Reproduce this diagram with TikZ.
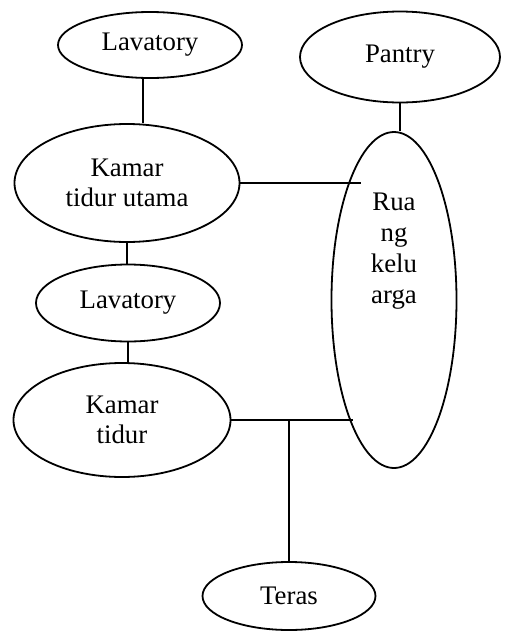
\documentclass[tikz,border=0pt]{standalone}
\usepackage{fontspec}
\setmainfont{Liberation Serif}
\usetikzlibrary{shapes.geometric}
\tikzset{room/.style={draw, ellipse, line width=.9pt, inner sep=0pt,
  align=center, font=\fontsize{13.4}{15}\selectfont}}
\tikzset{link/.style={line width=.9pt}}

\begin{document}
\begin{tikzpicture}[x=.5pt, y=-.5pt]
\useasboundingbox (0,0) rectangle (512,633);

\node[room, minimum width=92pt, minimum height=33pt] (lavA) at (150,45) {Lavatory};
\node[room, minimum width=100pt, minimum height=45.5pt] (pantry) at (400,57) {Pantry};
\node[room, minimum width=112.5pt, minimum height=59pt] (ktu) at (127,183) {Kamar\\tidur utama};
\node[room, minimum width=62.5pt, minimum height=168pt] (ruang) at (394,300) {};
\node[font=\fontsize{13.4}{15.5}\selectfont, align=center] (ruangtext) at (394,251) {Rua\\ng\\kelu\\arga};
\node[room, minimum width=92pt, minimum height=38.5pt] (lavB) at (128,303) {Lavatory};
\node[room, minimum width=108.5pt, minimum height=57pt] (kt) at (122,420) {Kamar\\tidur};
\node[room, minimum width=86.5pt, minimum height=34pt] (teras) at (289,596) {Teras};

\coordinate (ktuend) at (361,183);
\coordinate (ktend) at (353,420);
\coordinate (join) at (teras.north |- ktend);

\draw[link] ([xshift=-3.5pt]lavA.south) -- ([xshift=-3.5pt]lavA.south |- ktu.north);
\draw[link] (pantry.south) -- (pantry.south |- ruang.north);
\draw[link] (ktu.east) -- (ktuend);
\draw[link] (ktu.south) -- (ktu.south |- lavB.north);
\draw[link] (lavB.south) -- (lavB.south |- kt.north);
\draw[link] (kt.east) -- (ktend);
\draw[link] (join) -- (teras.north);

\end{tikzpicture}
\end{document}
